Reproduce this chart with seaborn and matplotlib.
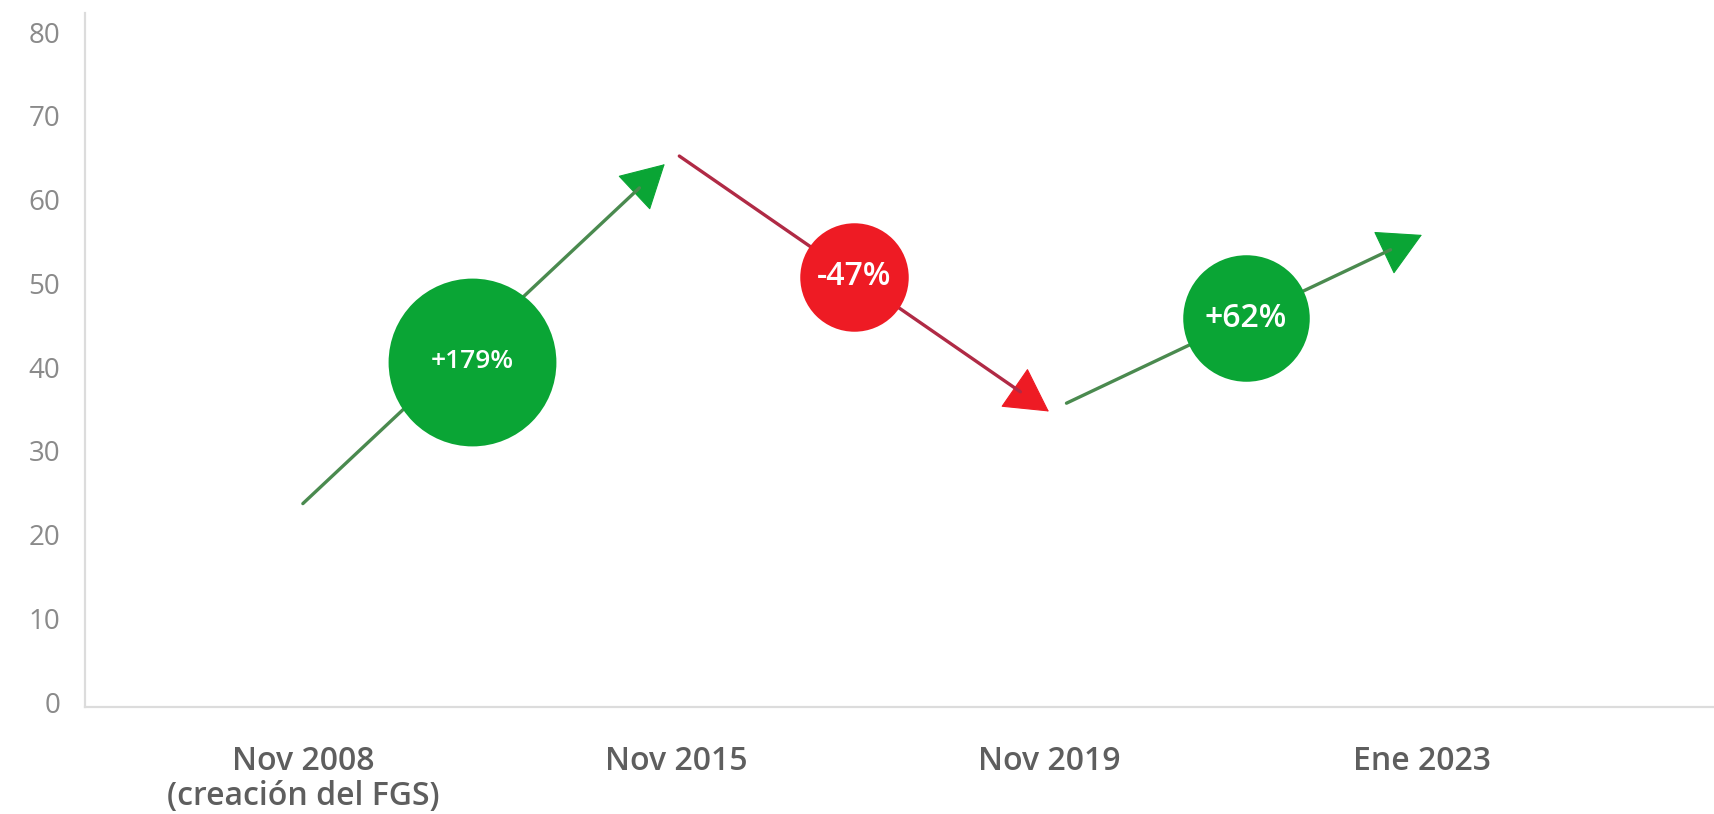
import numpy as np
import seaborn as sns
import matplotlib.pyplot as plt

# data
categories = ["Nov 2008\n(creación del FGS)", "Nov 2015", "Nov 2019", "Ene 2023"]
values = [23.7, 65.5, 34.7, 55.8]
changes = ["+179%", "-47%", "+62%"]
yticks = list(range(0, 81, 10))

# layout / style
GREEN = "#0aa535"
GREEN_LINE = "#4a8a4f"
RED = "#ee1b24"
RED_LINE = "#b02a45"
HEAD_LEN = 29
shrink_start = [0, 3, 14]
shrink_end = [11, 0, 0]
bubble_frac = [0.453, 0.477, 0.528]
bubble_shift = [-2.0, 0.0, 0.0]
bubble_s = [14600, 6100, 8300]
label_size = [19, 23, 23]

sns.set_theme(style="white")
plt.rcParams['font.family'] = ['Open Sans', 'DejaVu Sans']

fig = plt.figure(figsize=(17.14, 8.14), dpi=100)
ax = fig.add_axes([0.0496, 0.1314, 0.9504, 0.8526])

x = np.arange(len(categories))
for i in range(len(values) - 1):
    up = values[i + 1] > values[i]
    head = GREEN if up else RED
    line = GREEN_LINE if up else RED_LINE
    start = (x[i], values[i])
    end = (x[i + 1], values[i + 1])
    # filled head (its thin shaft is hidden under the line)
    ax.annotate("", xy=end, xytext=start,
                arrowprops=dict(arrowstyle=f"-|>,head_length={HEAD_LEN},head_width=16",
                                mutation_scale=1, lw=0.8,
                                facecolor=head, edgecolor=head,
                                shrinkA=shrink_start[i], shrinkB=shrink_end[i]),
                zorder=2)
    # shaft, stopping at the base of the head
    ax.annotate("", xy=end, xytext=start,
                arrowprops=dict(arrowstyle="-", lw=2.4, color=line,
                                shrinkA=shrink_start[i],
                                shrinkB=shrink_end[i] + HEAD_LEN - 4),
                zorder=2.5)
    bx = x[i] + bubble_frac[i]
    by = values[i] + bubble_frac[i] * (values[i + 1] - values[i]) + bubble_shift[i]
    sns.scatterplot(x=[bx], y=[by], s=bubble_s[i], color=head, linewidth=0,
                    ax=ax, zorder=3, legend=False)
    ax.text(bx, by, changes[i], color="white", fontsize=label_size[i],
            fontweight="semibold", ha="center", va="center", zorder=4)

ax.set_xlim(-0.584, 3.783)
ax.set_ylim(-0.6, 82.3)
ax.set_xticks(x)
ax.set_xticklabels(categories, fontsize=23, color="#5e5e5e",
                   fontweight="semibold", linespacing=1.1)
ax.set_yticks(yticks)
ax.set_yticklabels([str(t) for t in yticks], fontsize=20, color="#8a8a8a")
ax.tick_params(axis="both", length=0)
ax.tick_params(axis="y", pad=18)
ax.tick_params(axis="x", pad=27)

sns.despine(ax=ax)
for side in ["left", "bottom"]:
    ax.spines[side].set_color("#dcdcdc")
    ax.spines[side].set_linewidth(1.6)

fig.savefig("out.png", dpi=100)
